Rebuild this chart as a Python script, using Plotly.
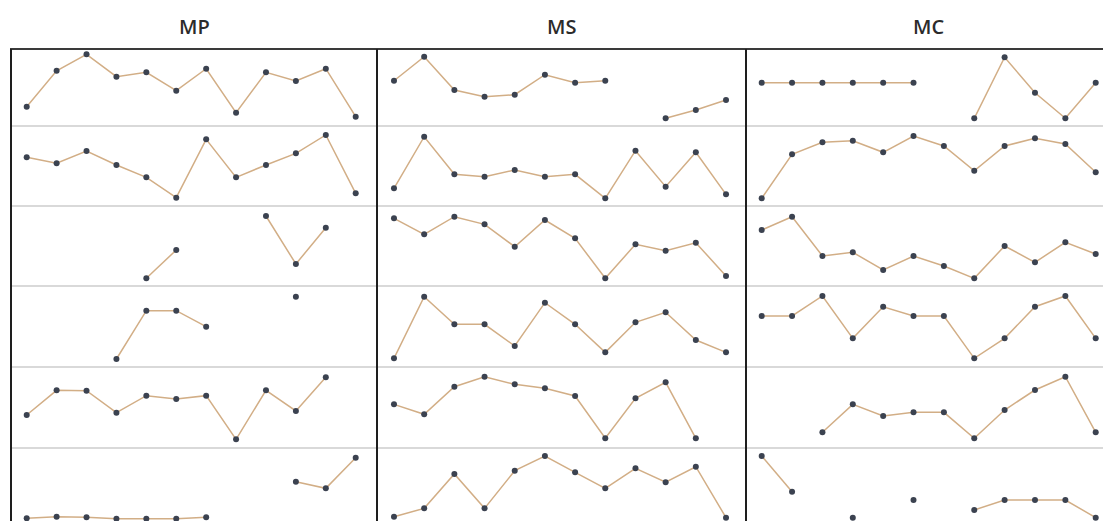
import plotly.graph_objects as go
from plotly.subplots import make_subplots

# ---- data (values on a 0-100 scale within each small panel) ----
periods = list(range(12))
groups = ["MP", "MS", "MC"]
N = None

mp_1 = [24.1, 69.1, 89.6, 61.6, 67.1, 44.1, 71.6, 16.6, 67.1, 56.3, 71.6, 11.6]
mp_2 = [60.8, 53.4, 68.8, 51.3, 35.8, 10.4, 83.3, 35.8, 51.3, 65.8, 88.8, 15.8]
mp_3 = [N, N, N, N, 9.6, 45.0, N, N, 87.5, 27.5, 72.9, N]
mp_4 = [N, N, N, 9.9, 69.5, 69.5, 49.8, N, N, 86.8, N, N]
mp_5 = [40.7, 71.2, 70.8, 43.6, 64.6, 60.5, 64.6, 10.7, 71.2, 45.7, 87.3, N]
mp_6 = [13.2, 15.2, 14.4, 12.7, 12.7, 12.7, 14.4, N, N, 58.4, 50.2, 88.0]

ms_1 = [56.6, 86.6, 45.0, 36.6, 39.1, 64.1, 54.1, 56.6, N, 9.6, 20.0, 32.5]
ms_2 = [22.1, 86.6, 39.6, 36.6, 45.0, 36.6, 39.6, 9.6, 69.1, 24.1, 67.1, 14.6]
ms_3 = [84.6, 64.6, 86.6, 77.1, 49.1, 82.5, 59.6, 9.6, 52.1, 44.1, 54.1, 12.5]
ms_4 = [10.7, 86.8, 52.7, 52.7, 25.9, 79.4, 52.7, 18.1, 55.2, 67.5, 33.3, 18.1]
ms_5 = [53.9, 41.6, 75.7, 87.9, 78.6, 73.7, 64.2, 12.0, 61.4, 81.1, 12.0, N]
ms_6 = [15.2, 25.5, 67.9, 25.5, 72.0, 90.1, 70.0, 50.2, 74.9, 57.7, 76.9, 14.0]

mc_1 = [54.1, 54.1, 54.1, 54.1, 54.1, 54.1, N, 9.6, 85.9, 41.6, 9.6, 54.1]
mc_2 = [9.6, 64.6, 79.6, 81.6, 67.1, 87.5, 75.0, 44.1, 75.0, 84.6, 77.5, 42.1]
mc_3 = [70.0, 86.6, 37.5, 42.1, 20.0, 37.5, 25.0, 9.6, 50.0, 29.6, 54.6, 40.0]
mc_4 = [63.0, 63.0, 87.7, 35.4, 74.4, 63.0, 63.0, 10.7, 35.4, 74.4, 87.7, 35.4]
mc_5 = [N, N, 19.4, 53.9, 39.5, 44.0, 44.0, 12.0, 46.9, 71.6, 88.0, 19.4]
mc_6 = [90.1, 46.0, N, 14.0, N, 35.8, N, 23.5, 35.8, 35.8, 35.8, 14.0]

columns = [
    [mp_1, mp_2, mp_3, mp_4, mp_5, mp_6],
    [ms_1, ms_2, ms_3, ms_4, ms_5, ms_6],
    [mc_1, mc_2, mc_3, mc_4, mc_5, mc_6],
]

# ---- layout geometry (screen pixels) ----
OFF = 0
W, H = 1103, 521
col_px = [(11, 377), (377, 746), (746, 1103)]
col_xrange = [(-0.525, 11.712), (-0.563, 11.662), (-0.517, 11.24)]
row_px = [(46, 126), (126, 206), (206, 286), (286, 367), (367, 448), (448, 529)]


def px_x(x):
    return (x - OFF) / W


def px_y(y):
    return 1 - (y - OFF) / H


LINE_COLOR = "#d2ae86"
MARKER_COLOR = "#3b4250"

fig = make_subplots(rows=6, cols=3)

for c, col in enumerate(columns):
    for r, vals in enumerate(col):
        fig.add_trace(
            go.Scatter(
                x=periods, y=vals, mode="lines+markers",
                line=dict(color=LINE_COLOR, width=1.5),
                marker=dict(color=MARKER_COLOR, size=6),
                showlegend=False, hoverinfo="skip",
            ),
            row=r + 1, col=c + 1,
        )

for c in range(3):
    x0, x1 = col_px[c]
    for r in range(6):
        y0, y1 = row_px[r]
        bottom = min(y1, H + OFF)
        h = y1 - y0
        ymin = (y1 - bottom) / h * 100
        fig.update_xaxes(domain=[px_x(x0), min(px_x(x1), 1)], range=list(col_xrange[c]),
                         visible=False, row=r + 1, col=c + 1)
        fig.update_yaxes(domain=[max(px_y(bottom), 0), px_y(y0)], range=[ymin, 100],
                         visible=False, row=r + 1, col=c + 1)

shapes = []
# row separators
for y in [126, 206, 286, 367, 448]:
    shapes.append(dict(type="line", xref="paper", yref="paper",
                       x0=px_x(11), x1=1, y0=px_y(y), y1=px_y(y),
                       line=dict(color="#d9d9d9", width=2), layer="below"))
# top border
shapes.append(dict(type="line", xref="paper", yref="paper",
                   x0=px_x(10), x1=1, y0=px_y(49), y1=px_y(49),
                   line=dict(color="#3a3a3a", width=2)))
# vertical dividers
for x in [11, 377, 746]:
    shapes.append(dict(type="line", xref="paper", yref="paper",
                       x0=px_x(x), x1=px_x(x), y0=0, y1=px_y(49),
                       line=dict(color="#1e1e1e", width=2)))

annotations = []
for g, cx in zip(groups, [194, 561.5, 928]):
    annotations.append(dict(text=g, x=px_x(cx), y=px_y(27), xref="paper", yref="paper",
                            showarrow=False, xanchor="center", yanchor="middle",
                            font=dict(family="Open Sans", size=20, color="#2b2b2b", weight=600)))

fig.update_layout(
    width=W, height=H,
    margin=dict(l=0, r=0, t=0, b=0),
    paper_bgcolor="white", plot_bgcolor="white",
    shapes=shapes, annotations=annotations,
)

fig.write_html(
    "out.html",
    config={"displayModeBar": False},
    post_script="document.body.style.margin='0';document.body.style.overflow='hidden';",
)
